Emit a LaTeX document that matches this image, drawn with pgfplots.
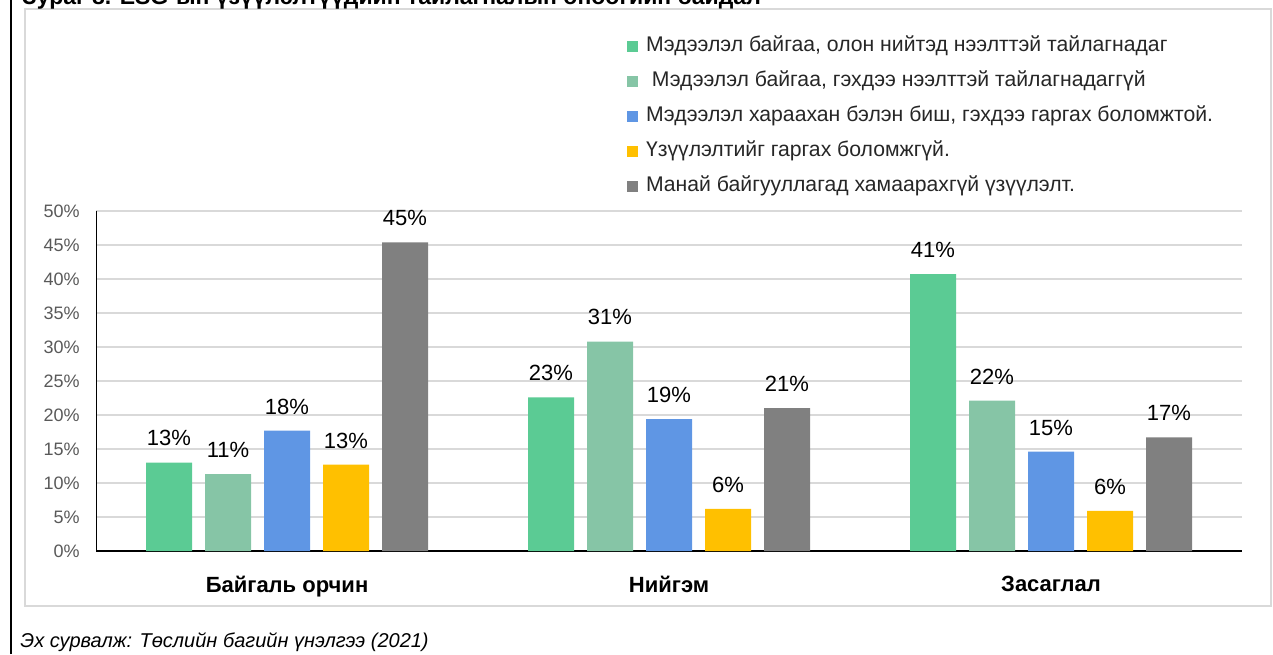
\documentclass[border=0pt]{standalone}
\usepackage{fontspec}
\setmainfont{Liberation Sans}
\usepackage{pgfplots}
\pgfplotsset{compat=1.18}
\definecolor{cA}{HTML}{5BCB94}
\definecolor{cB}{HTML}{86C5A6}
\definecolor{cC}{HTML}{5F96E4}
\definecolor{cD}{HTML}{FFC000}
\definecolor{cE}{HTML}{808080}
\definecolor{gridc}{HTML}{D9D9D9}
\definecolor{tickc}{HTML}{595959}
\begin{document}
\begin{tikzpicture}
\path[use as bounding box] (0,0) rectangle (636.5pt,327pt);
\draw[black, line width=1pt] (5.5pt,0) -- (5.5pt,327pt);
\draw[gridc, line width=1pt] (12.5pt,24pt) rectangle (635.5pt,322.5pt);
\node[anchor=base west, inner sep=0pt, font=\bfseries\fontsize{11.5}{13}\selectfont] at (11pt,324.5pt) {Зураг 8. ESG-ын үзүүлэлтүүдийн тайлагналын өнөөгийн байдал};
\node[anchor=base west, inner sep=0pt, font=\itshape\fontsize{10}{12}\selectfont] at (10pt,3.5pt) {Эх сурвалж: Төслийн багийн үнэлгээ (2021)};
\begin{axis}[
  at={(48pt,51.5pt)}, anchor=south west,
  width=573pt, height=170pt, scale only axis,
  ybar=6.5pt, bar width=23pt,
  xmin=-0.5, xmax=2.5, ymin=0, ymax=50,
  xtick={0,1,2}, xticklabels={Байгаль орчин, Нийгэм, Засаглал},
  ytick={0,5,...,50},
  yticklabel={\pgfmathprintnumber{\tick}\%},
  axis x line*=bottom, axis y line*=left,
  x axis line style={-, line width=1pt, black},
  y axis line style={-, line width=0.5pt, black},
  major tick length=0pt,
  ymajorgrids, grid style={gridc, line width=1pt},
  xticklabel style={font=\bfseries\fontsize{11}{13}\selectfont, inner sep=0pt, anchor=north, yshift=-12.5pt},
  yticklabel style={font=\fontsize{9}{11}\selectfont, text=tickc, inner sep=0pt, anchor=east, xshift=-8pt},
  /pgf/number format/assume math mode=true,
  nodes near coords={\pgfmathprintnumber[fixed,precision=0]{\pgfplotspointmeta}\%},
  nodes near coords style={font=\fontsize{11}{13}\selectfont, text=black, inner sep=0pt, anchor=south, yshift=8pt},
  legend cell align=left,
  legend image code/.code={\fill[#1] (0pt,-2.75pt) rectangle (5.5pt,2.75pt);},
  legend style={draw=none, fill=none, at={(axis description cs:0.4634,1.51)}, anchor=north west,
    inner sep=0pt, outer sep=0pt, row sep=9pt, column sep=4pt,
    font=\fontsize{10.6}{12}\selectfont, text=black!85,
    nodes={inner sep=0pt, text height=7pt, text depth=1.5pt}},
]
\addplot[fill=cA, draw=none] coordinates {(0,13.0) (1,22.6) (2,40.7)};
\addplot[fill=cB, draw=none] coordinates {(0,11.3) (1,30.8) (2,22.1)};
\addplot[fill=cC, draw=none] coordinates {(0,17.7) (1,19.4) (2,14.6)};
\addplot[fill=cD, draw=none] coordinates {(0,12.7) (1,6.2) (2,5.9)};
\addplot[fill=cE, draw=none] coordinates {(0,45.4) (1,21.0) (2,16.7)};
\legend{Мэдээлэл байгаа{,} олон нийтэд нээлттэй тайлагнадаг,
  \ Мэдээлэл байгаа{,} гэхдээ нээлттэй тайлагнадаггүй,
  Мэдээлэл хараахан бэлэн биш{,} гэхдээ гаргах боломжтой.,
  Үзүүлэлтийг гаргах боломжгүй.,
  Манай байгууллагад хамаарахгүй үзүүлэлт.}
\end{axis}
\end{tikzpicture}
\end{document}
